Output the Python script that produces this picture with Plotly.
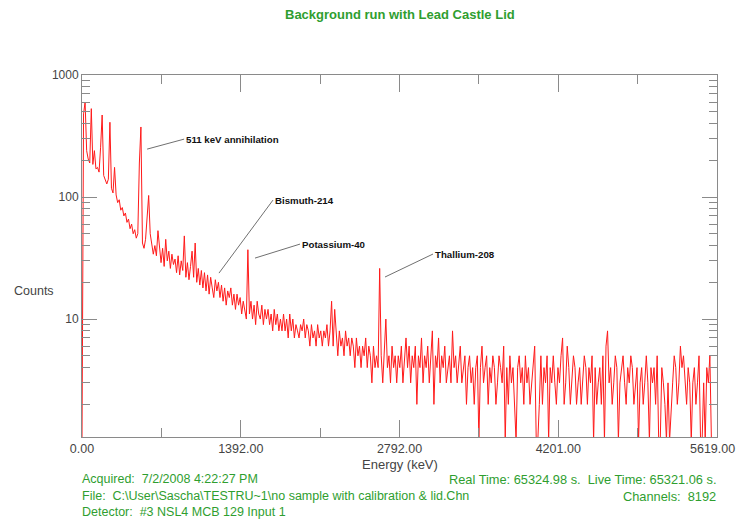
import numpy as np
import plotly.graph_objects as go

# ---------------- data ----------------
counts = [
    1, 480, 600, 240, 205, 190, 530, 185, 240, 170,
    175, 160, 256, 470, 150, 135, 128, 140, 410, 118,
    108, 175, 104, 90, 95, 78, 82, 70, 74, 62,
    66, 55, 60, 50, 54, 46, 50, 190, 375, 42,
    38, 45, 70, 103, 50, 42, 34, 40, 33, 53,
    36, 29, 38, 27, 45, 30, 36, 26, 34, 28,
    31, 24, 33, 23, 30, 25, 48, 22, 29, 21,
    27, 36, 22, 42, 20, 26, 19, 25, 18, 24,
    17, 23, 16, 22, 18, 15, 21, 17, 20, 15,
    19, 14, 18, 13, 17, 15, 18, 13, 16, 12,
    16, 13, 15, 11, 14, 12, 10, 37, 11, 14,
    10, 13, 9, 14, 11, 10, 13, 9, 12, 10,
    12, 9, 11, 8, 12, 9, 11, 8, 10, 8,
    11, 8, 10, 7, 11, 8, 10, 7, 9, 8,
    7, 9, 8, 10, 7, 9, 8, 6, 9, 7,
    8, 6, 9, 7, 8, 6, 8, 7, 9, 6,
    8, 14, 6, 12, 7, 5, 8, 6, 7, 5,
    8, 6, 7, 5, 7, 6, 4, 7, 5, 6,
    4, 6, 5, 7, 4, 6, 5, 3, 6, 4,
    5, 4, 26, 5, 3, 6, 10, 4, 5, 3,
    6, 4, 5, 3, 5, 4, 6, 3, 5, 7,
    4, 6, 3, 5, 4, 6, 2, 5, 4, 7,
    3, 5, 4, 6, 3, 5, 8, 2, 5, 4,
    7, 3, 5, 4, 6, 3, 4, 5, 3, 8,
    4, 5, 3, 4, 6, 3, 4, 5, 2, 4,
    5, 3, 4, 2, 4, 5, 1, 4, 6, 3,
    4, 5, 2, 4, 3, 5, 4, 2, 3, 5,
    4, 3, 6, 1, 4, 2, 5, 3, 4, 2,
    1, 4, 5, 3, 4, 2, 5, 3, 4, 2,
    3, 4, 6, 1, 1, 2, 5, 2, 4, 3,
    5, 1, 4, 3, 5, 3, 2, 4, 3, 5,
    7, 2, 3, 6, 4, 2, 3, 5, 4, 2,
    3, 4, 2, 3, 5, 4, 2, 4, 3, 5,
    1, 4, 2, 3, 4, 2, 5, 1, 6, 8,
    3, 4, 2, 3, 5, 4, 1, 3, 4, 5,
    3, 2, 4, 3, 5, 4, 2, 3, 4, 1,
    3, 4, 2, 3, 5, 3, 1, 4, 3, 4,
    2, 5, 1, 1, 4, 3, 2, 1, 3, 1,
    2, 3, 5, 4, 2, 3, 6, 4, 5, 3,
    2, 4, 3, 1, 3, 4, 2, 3, 5, 1,
    1, 3, 1, 4, 3, 5, 1, 1, 1, 1,
]
channel_step = 20
channels = [i * channel_step for i in range(len(counts))]

energy_tick_channels = [0, 2048, 4096, 6144, 8192]
energy_tick_labels = ["0.00", "1392.00", "2792.00", "4201.00", "5619.00"]
minor_tick_channels = [1024, 3072, 5120, 7168]

peak_labels = ["511 keV annihilation", "Bismuth-214", "Potassium-40", "Thallium-208"]
peak_channels = [840, 1767, 2232, 3909]
peak_counts = [247, 23.8, 31.6, 22.1]
label_dx = [37, 54, 45, 48]
label_dy = [-10, -73, -14, -23]

title_text = "Background run with Lead Castle Lid"
info_left = ["Acquired:  7/2/2008 4:22:27 PM",
             "File:  C:\\User\\Sascha\\TESTRU~1\\no sample with calibration &amp; lid.Chn",
             "Detector:  #3 NSL4 MCB 129 Input 1"]
info_right = ["Real Time: 65324.98 s.  Live Time: 65321.06 s.",
              "Channels:  8192",
              ""]

# ---------------- figure ----------------
GREEN = "#2f9e2f"
AXC = "#8a8a8a"
FONT = "Liberation Sans, Arial, sans-serif"
TICKFONT = dict(family=FONT, size=12.5, color="#444444")

fig = go.Figure()
fig.add_trace(go.Scatter(
    x=channels, y=counts, mode="lines",
    line=dict(color="#ff1a1a", width=1),
    hoverinfo="skip", showlegend=False,
))

W, H = 738, 521
L, R, T, B = 82, 21, 75, 84
plot_w = W - L - R
plot_h = H - T - B

def px_x(px):
    return (px - L) / plot_w

def px_y(py):
    return (H - B - py) / plot_h

# the last energy label sits at the very edge of the page: keep it inside
shown_tick_labels = energy_tick_labels[:-1] + [""]

annotations = []
annotations.append(dict(text=energy_tick_labels[-1], x=px_x(737), y=px_y(449),
                        xref="paper", yref="paper", showarrow=False,
                        font=TICKFONT, xanchor="right", yanchor="middle"))
annotations.append(dict(text="<b>" + title_text + "</b>", x=px_x(400), y=px_y(14),
                        xref="paper", yref="paper", showarrow=False,
                        font=dict(family=FONT, size=13, color=GREEN),
                        xanchor="center", yanchor="middle"))
annotations.append(dict(text="Energy (keV)", x=0.5, y=px_y(464), xref="paper", yref="paper",
                        showarrow=False, font=dict(family=FONT, size=13, color="#444444"),
                        xanchor="center", yanchor="middle"))
annotations.append(dict(text="Counts", x=px_x(12), y=px_y(291), xref="paper", yref="paper",
                        showarrow=False, font=dict(family=FONT, size=12.5, color="#444444"),
                        xanchor="left", yanchor="middle"))
row_y = [479, 496, 512]
for txt, yy in zip(info_left, row_y):
    annotations.append(dict(text=txt, x=px_x(80), y=px_y(yy), xref="paper", yref="paper",
                            showarrow=False, font=dict(family=FONT, size=12.5, color=GREEN),
                            xanchor="left", yanchor="middle"))
for txt, yy in zip(info_right, row_y):
    if txt:
        annotations.append(dict(text=txt, x=px_x(718), y=px_y(yy), xref="paper", yref="paper",
                                showarrow=False, font=dict(family=FONT, size=12.8, color=GREEN),
                                xanchor="right", yanchor="middle"))
for lab, cx, cy, dx, dy in zip(peak_labels, peak_channels, peak_counts, label_dx, label_dy):
    annotations.append(dict(text="<b>" + lab + "</b>", x=cx, y=float(np.log10(cy)),
                            xref="x", yref="y", showarrow=True, arrowhead=0,
                            arrowwidth=1, arrowcolor="#707070", ax=dx, ay=dy,
                            xanchor="left", yanchor="middle",
                            font=dict(family=FONT, size=9.7, color="#111111")))

fig.update_layout(
    width=W, height=H,
    margin=dict(l=L, r=R, t=T, b=B, pad=0),
    paper_bgcolor="white", plot_bgcolor="white",
    showlegend=False,
    annotations=annotations,
    xaxis=dict(
        range=[0, 8192], tickmode="array",
        tickvals=energy_tick_channels, ticktext=shown_tick_labels,
        ticks="inside", ticklen=17, tickcolor=AXC, tickwidth=1,
        showline=True, linecolor=AXC, linewidth=1, mirror="allticks",
        showgrid=False, zeroline=False, automargin=False,
        tickfont=TICKFONT,
        minor=dict(tickmode="array", tickvals=minor_tick_channels, ticks="inside",
                   ticklen=9, tickcolor=AXC, showgrid=False),
    ),
    yaxis=dict(
        type="log", range=[float(np.log10(1.08)), 3.0],
        tick0=0, dtick=1, exponentformat="none",
        ticks="inside", ticklen=15, tickcolor=AXC, tickwidth=1,
        showline=True, linecolor=AXC, linewidth=1, mirror="allticks",
        showgrid=False, zeroline=False, automargin=False,
        tickfont=dict(family=FONT, size=12, color="#444444"),
        minor=dict(ticks="inside", ticklen=8, tickcolor=AXC, showgrid=False),
    ),
)

fig.write_html("out.html")
